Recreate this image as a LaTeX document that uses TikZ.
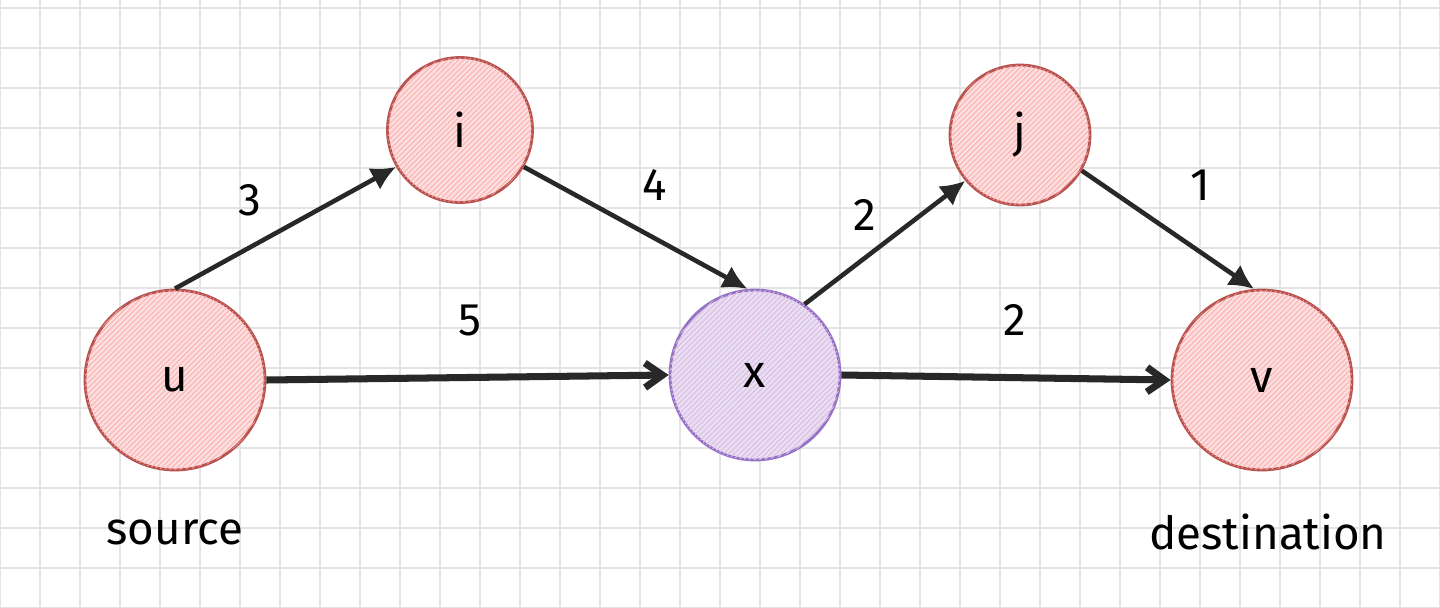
\documentclass[tikz,border=0pt]{standalone}
\usepackage{fontspec}
\setmainfont{Fira Sans}
\usetikzlibrary{patterns,arrows.meta}
\definecolor{nodered}{RGB}{184,84,80}
\definecolor{nodefill}{RGB}{252,222,222}
\definecolor{nodepurple}{RGB}{150,115,200}
\definecolor{purplefill}{RGB}{232,222,248}
\definecolor{gridc}{RGB}{228,228,228}
\definecolor{edgec}{RGB}{40,40,40}
\tikzset{
  vtx/.style={circle,draw=nodered,line width=1.6pt,fill=nodefill,
    postaction={pattern=north east lines,pattern color=red!35},
    font=\fontsize{26}{30}\selectfont,inner sep=0pt},
  vtxp/.style={vtx,draw=nodepurple,fill=purplefill,
    postaction={pattern=north east lines,pattern color=nodepurple!40}},
  edge/.style={draw=edgec,line width=2.6pt,-{Latex[length=14pt,width=14pt]}},
  hedge/.style={draw=edgec,line width=4pt,-{Straight Barb[length=10pt,width=14pt]}},
  lbl/.style={font=\fontsize{26}{30}\selectfont,text=black},
  captext/.style={font=\fontsize{26}{30}\selectfont,text=black}
}
\begin{document}
\begin{tikzpicture}[x=0.02cm,y=-0.02cm]
\useasboundingbox (0,0) rectangle (1440,608);
\fill[white] (0,0) rectangle (1440,608);
\foreach \gx in {0,40,...,1440} \draw[gridc,line width=0.6pt] (\gx,0) -- (\gx,608);
\foreach \gy in {8,48,...,608} \draw[gridc,line width=0.6pt] (0,\gy) -- (1440,\gy);
\node[vtx,minimum size=3.6cm] (u) at (175,380) {u};
\node[vtx,minimum size=2.9cm] (i) at (460,130) {i};
\node[vtxp,minimum size=3.4cm] (x) at (755,375) {x};
\node[vtx,minimum size=2.8cm] (j) at (1020,135) {j};
\node[vtx,minimum size=3.6cm] (v) at (1262,380) {v};
\draw[edge] (u.90) -- (i.210);
\draw[edge] (i.-30) -- (x.95);
\draw[edge] (x.55) -- (j.220);
\draw[edge] (j.-30) -- (v.95);
\draw[hedge] (u.east) -- (x.west);
\draw[hedge] (x.east) -- (v.west);
\node[lbl] (l1) at (250,200) {3};
\node[lbl] (l2) at (655,185) {4};
\node[lbl] (l3) at (470,320) {5};
\node[lbl] (l4) at (865,215) {2};
\node[lbl] (l5) at (1200,185) {1};
\node[lbl] (l6) at (1015,320) {2};
\node[captext] (s) at (175,532) {source};
\node[captext] (d) at (1268,532) {destination};
\end{tikzpicture}
\end{document}
